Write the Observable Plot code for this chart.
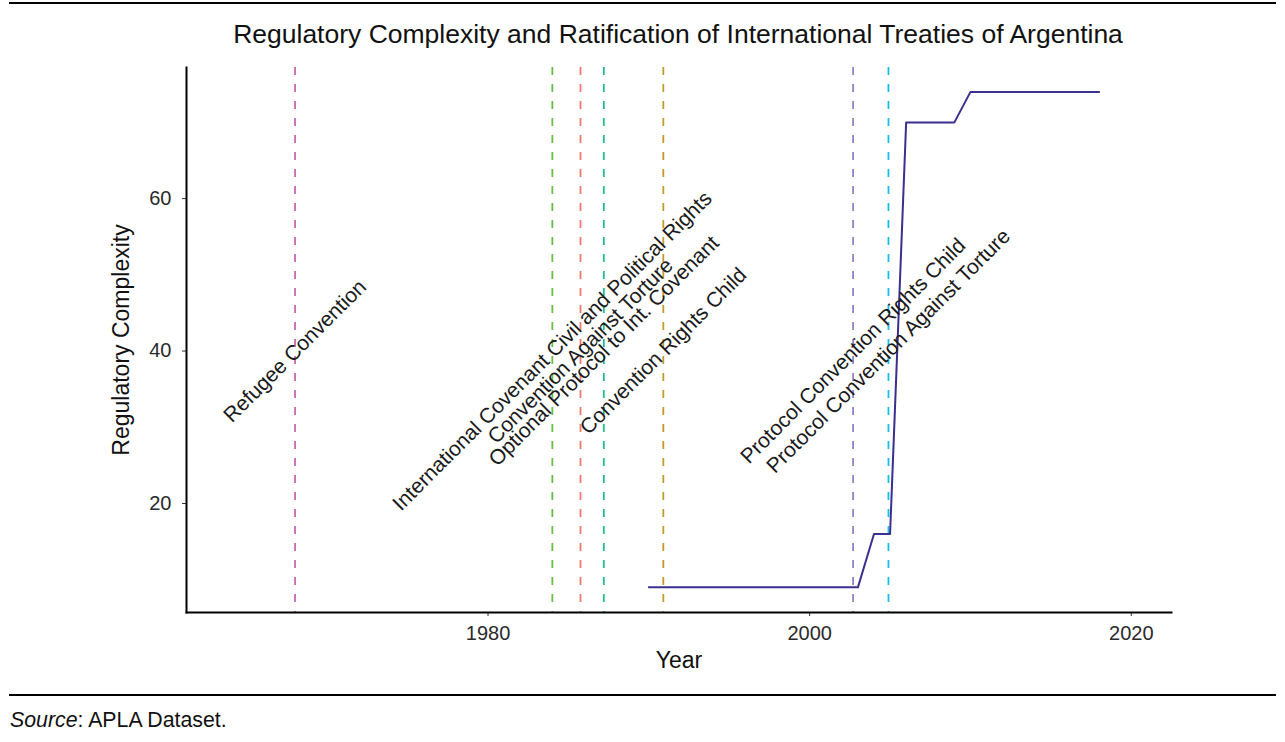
<!DOCTYPE html>
<html><head><meta charset="utf-8">
<script src="https://cdn.jsdelivr.net/npm/d3@7"></script>
<script src="https://cdn.jsdelivr.net/npm/@observablehq/plot@0.6"></script>
<style>
body{margin:0;background:#fff;font-family:"Liberation Sans",Arial,sans-serif;}
#wrap{position:relative;width:1285px;height:742px;overflow:hidden;}
.rule{position:absolute;left:9px;width:1267px;height:2px;background:#000;}
#title{position:absolute;left:186px;width:984px;top:19px;text-align:center;font-size:26.5px;color:#111;line-height:30px;}
#chart{position:absolute;left:0;top:60px;}
#caption{position:absolute;left:10px;top:708px;font-size:21.3px;color:#111;line-height:24px;}
</style></head>
<body><div id="wrap">
<div class="rule" style="top:2px"></div>
<div id="title">Regulatory Complexity and Ratification of International Treaties of Argentina</div>
<div id="chart"></div>
<div class="rule" style="top:694px"></div>
<div id="caption"><i>Source</i>: APLA Dataset.</div>
</div>
<script>
// Regulatory complexity series
const years = [1990,1991,1992,1993,1994,1995,1996,1997,1998,1999,2000,2001,2002,2003,2004,2005,2006,2007,2008,2009,2010,2011,2012,2013,2014,2015,2016,2017,2018];
const complexity = [9,9,9,9,9,9,9,9,9,9,9,9,9,9,16,16,70,70,70,70,74,74,74,74,74,74,74,74,74];

// Treaty ratifications (vertical dashed lines)
const treatyNames = ["Refugee Convention","International Covenant Civil and Political Rights","Convention Against Torture","Optional Protocol to Int. Covenant","Convention Rights Child","Protocol Convention Rights Child","Protocol Convention Against Torture"];
const treatyYears = [1968.0, 1984.0, 1985.75, 1987.2, 1990.9, 2002.7, 2004.9];
const treatyColors = ["#CC68B0","#6ABD45","#F07A6E","#22BE8E","#C39A2E","#8E87C6","#1ABCEB"];
const treatyLabelY = 40;

const xTicks = [1980, 2000, 2020];
const yTicks = [20, 40, 60];

const series = years.map((y, i) => ({year: y, value: complexity[i]}));
const treaties = treatyNames.map((n, i) => ({name: n, year: treatyYears[i], color: treatyColors[i]}));

const plot = Plot.plot({
  width: 1285, height: 630,
  marginLeft: 186, marginRight: 114, marginTop: 7, marginBottom: 78,
  style: {fontFamily: "Liberation Sans, Arial, sans-serif", background: "transparent", color: "#222"},
  x: {domain: [1961.25, 2022.5]},
  y: {domain: [5.7, 77.2]},
  color: {type: "identity"},
  marks: [
    Plot.ruleX(treaties, {x: "year", stroke: "color", strokeWidth: 1.8, strokeDasharray: "8,9"}),
    Plot.line(series, {x: "year", y: "value", stroke: "#3B2F8F", strokeWidth: 2}),
    Plot.text(treaties, {x: "year", y: d => treatyLabelY, text: "name", rotate: -45, fontSize: 21, fill: "#1a1a1a"}),
    Plot.axisX({ticks: xTicks, tickFormat: d => String(d), tickSize: 4, tickPadding: 9, fontSize: 20, label: null, stroke: "#333", fill: "#2a2a2a"}),
    Plot.axisY({ticks: yTicks, tickSize: 4, tickPadding: 11, fontSize: 20, label: null, stroke: "#333", fill: "#2a2a2a"}),
    Plot.frame({anchor: "left", stroke: "#000", strokeWidth: 2}),
    Plot.frame({anchor: "bottom", stroke: "#000", strokeWidth: 2}),
    Plot.text(["Year"], {frameAnchor: "bottom", dy: 55, fontSize: 23, fill: "#111"}),
    Plot.text(["Regulatory Complexity"], {frameAnchor: "left", textAnchor: "middle", dx: -65, rotate: -90, fontSize: 23, fill: "#111"})
  ]
});
document.getElementById("chart").appendChild(plot);
</script>
</body></html>
